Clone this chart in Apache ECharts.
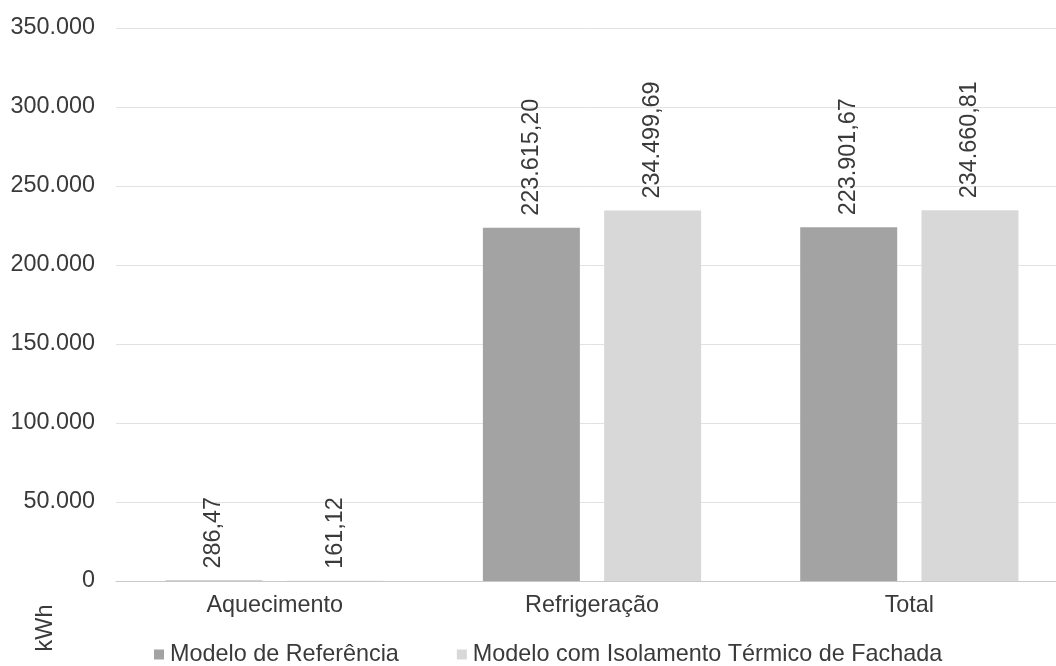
<!DOCTYPE html>
<html>
<head>
<meta charset="utf-8">
<script src="https://cdn.jsdelivr.net/npm/echarts@6/dist/echarts.min.js"></script>
<style>
  html, body { margin: 0; padding: 0; background: #fff; }
  #chart { width: 1056px; height: 666px; }
</style>
</head>
<body>
<div id="chart"></div>
<script>
// Energy consumption per use (kWh)
const categories = ['Aquecimento', 'Refrigeração', 'Total'];
const seriesNames = ['Modelo de Referência', 'Modelo com Isolamento Térmico de Fachada'];
const referenceValues = [286.47, 223615.20, 223901.67];
const insulatedValues = [161.12, 234499.69, 234660.81];
const seriesColors = ['#a3a3a3', '#d8d8d8'];

const FONT = 'Liberation Sans, Arial, sans-serif';
const FS = 23.4;
const TEXT = '#3a3a3a';

// Brazilian number format: "." thousands, "," decimals
function fmtBR(v, decimals) {
  const parts = v.toFixed(decimals).split('.');
  const intPart = parts[0].replace(/\B(?=(\d{3})+(?!\d))/g, '.');
  return parts.length > 1 ? intPart + ',' + parts[1] : intPart;
}

const chart = echarts.init(document.getElementById('chart'));

function barSeries(name, values, color) {
  return {
    name: name,
    type: 'bar',
    data: values,
    barWidth: 97,
    barGap: '25%',
    itemStyle: { color: color },
    label: {
      show: true,
      position: 'top',
      rotate: 90,
      align: 'left',
      verticalAlign: 'middle',
      distance: 12,
      fontFamily: FONT,
      fontSize: FS,
      color: TEXT,
      formatter: p => fmtBR(p.value, 2)
    }
  };
}

chart.setOption({
  animation: false,
  // the plot area runs slightly past the right edge of the canvas
  grid: {
    left: 116, width: 952, top: 28, bottom: 85,
    containLabel: false, outerBoundsMode: 'none'
  },
  legend: {
    data: seriesNames,
    left: 154,
    top: 643,
    padding: 0,
    itemWidth: 10,
    itemHeight: 10,
    itemGap: 58,
    icon: 'rect',
    textStyle: { fontFamily: FONT, fontSize: FS, color: TEXT, padding: [0, 0, 0, 1] }
  },
  xAxis: {
    type: 'category',
    data: categories,
    axisTick: { show: false },
    axisLine: { lineStyle: { color: '#c8c8c8', width: 1 } },
    axisLabel: { fontFamily: FONT, fontSize: FS, color: TEXT, margin: 13 }
  },
  yAxis: {
    type: 'value',
    min: 0,
    max: 350000,
    interval: 50000,
    axisLine: { show: false },
    axisTick: { show: false },
    splitLine: { lineStyle: { color: '#e2e2e2', width: 1 } },
    axisLabel: {
      fontFamily: FONT, fontSize: FS, color: TEXT, margin: 21,
      formatter: v => fmtBR(v, 0)
    }
  },
  graphic: [{
    type: 'text',
    x: 46,
    y: 628,
    rotation: Math.PI / 2,
    style: {
      text: 'kWh', font: FS + 'px ' + FONT, fill: TEXT,
      align: 'center', verticalAlign: 'middle'
    }
  }],
  series: [
    barSeries(seriesNames[0], referenceValues, seriesColors[0]),
    barSeries(seriesNames[1], insulatedValues, seriesColors[1])
  ]
});
</script>
</body>
</html>
